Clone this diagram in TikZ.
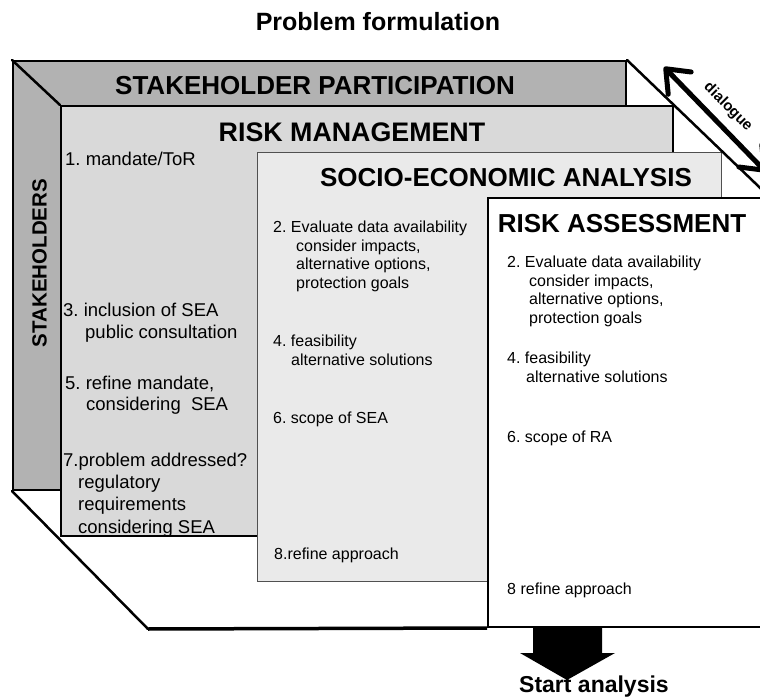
\documentclass[tikz,border=0pt]{standalone}
\usepackage{fontspec}
\setmainfont{Liberation Sans}[BoldFont={Liberation Sans Bold}]
\usetikzlibrary{arrows.meta}
\definecolor{spgray}{HTML}{B2B2B2}
\definecolor{rmgray}{HTML}{D9D9D9}
\definecolor{seagray}{HTML}{EAEAEA}
\definecolor{seaedge}{HTML}{505050}
\frenchspacing

\begin{document}
\begin{tikzpicture}[x=1pt,y=-1pt,
  panel/.style={draw=black,line width=2pt,inner sep=0pt,anchor=north west},
  boxtitle/.style={font=\bfseries\fontsize{26}{30}\selectfont,inner sep=0pt,anchor=base},
  rmitem/.style={font=\fontsize{18.5}{21.5}\selectfont,inner sep=0pt,anchor=base west,align=left},
  txtitem/.style={font=\fontsize{16}{18.5}\selectfont,inner sep=0pt,anchor=base west,align=left},
  frameline/.style={line width=2.5pt,line cap=round},
]
\clip (0,0) rectangle (760,700);

% title
\node[font=\bfseries\fontsize{25}{28}\selectfont,inner sep=0pt,anchor=base] (ttl) at (378,31) {Problem formulation};

% nested panels
\node[panel,fill=spgray,minimum width=613pt,minimum height=429pt] (sp) at (12,60) {};
\node[panel,fill=rmgray,minimum width=612pt,minimum height=430pt] (rm) at (60,105) {};
\node[panel,fill=seagray,draw=seaedge,line width=1.3pt,minimum width=464pt,minimum height=429pt] (sea) at (257,152) {};
\node[panel,fill=white,minimum width=281pt,minimum height=429pt] (ra) at (487,197) {};

% perspective edges
\coordinate (trEnd) at (780,207);
\coordinate (floorL) at (148,629);
\draw[frameline] (sp.north west) -- (rm.north west);
\draw[frameline] (sp.north east) -- (trEnd);
\draw[frameline] (sp.south west) -- (floorL);
\draw[line width=3.5pt] (floorL) -- (ra.south west);

% panel titles
\node[boxtitle] (spT) at (315,95) {STAKEHOLDER PARTICIPATION};
\node[boxtitle,font=\bfseries\fontsize{26.8}{30}\selectfont] (rmT) at (352,142) {RISK MANAGEMENT};
\node[boxtitle] (seaT) at (506,187) {SOCIO-ECONOMIC ANALYSIS};
\node[boxtitle] (raT) at (622,233) {RISK ASSESSMENT};
\node[font=\bfseries\fontsize{20.5}{24}\selectfont,inner sep=0pt,rotate=90] (stk) at (39.5,263) {STAKEHOLDERS};

% risk management steps (multi-line nodes sit on their last baseline)
\node[rmitem] (rm1) at (65,166) {1. mandate/ToR};
\node[rmitem] (rm3) at (63,338.5) {3. inclusion of SEA\\\hspace*{22pt}public consultation};
\node[rmitem] (rm5) at (65,410.5) {5. refine mandate,\\\hspace*{21pt}considering\ \ SEA};
\node[rmitem,font=\fontsize{18.5}{22.3}\selectfont] (rm7) at (63,533) {7.problem addressed?\\\hspace*{15pt}regulatory\\\hspace*{15pt}requirements\\\hspace*{15pt}considering SEA};

% socio-economic analysis steps
\node[txtitem] (sea2) at (273,288.5) {2. Evaluate data availability\\\hspace*{23pt}consider impacts,\\\hspace*{23pt}alternative options,\\\hspace*{23pt}protection goals};
\node[txtitem] (sea4) at (273,365.5) {4. feasibility\\\hspace*{18pt}alternative solutions};
\node[txtitem] (sea6) at (273,423) {6. scope of SEA};
\node[txtitem] (sea8) at (274,559) {8.refine approach};

% risk assessment steps
\node[txtitem] (ra2) at (507,323.5) {2. Evaluate data availability\\\hspace*{22pt}consider impacts,\\\hspace*{22pt}alternative options,\\\hspace*{22pt}protection goals};
\node[txtitem,font=\fontsize{16}{19.5}\selectfont] (ra4) at (507,382.5) {4. feasibility\\\hspace*{19pt}alternative solutions};
\node[txtitem] (ra6) at (507,442) {6. scope of RA};
\node[txtitem] (ra8) at (507,594) {8 refine approach};

% dialogue arrow
\coordinate (dlgA) at (664,67);
\coordinate (dlgB) at (766,172);
\draw[line width=5pt,line cap=round,
  {Straight Barb[length=20pt,width=32pt,round]}-{Straight Barb[length=20pt,width=32pt,round]}]
  (dlgA) -- (dlgB);
\node[font=\bfseries\fontsize{15}{17}\selectfont,inner sep=0pt,rotate=-45] (dlg) at (728,107) {dialogue};

% outcome arrow
\fill (533,626) -- (602,626) -- (602,653) -- (615,653) -- (567,680) -- (520,653) -- (533,653) -- cycle;
\node[font=\bfseries\fontsize{23}{26}\selectfont,inner sep=0pt,anchor=base west] (start) at (519,692) {Start analysis};
\end{tikzpicture}
\end{document}
